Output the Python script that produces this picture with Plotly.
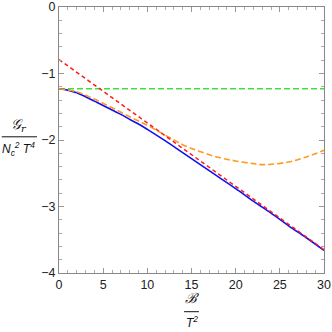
import plotly.graph_objects as go

# Data
x_blue = [0, 1, 2, 3, 4, 5, 6, 7, 8, 9, 10, 12, 14, 16, 18, 20, 22, 24, 26, 28, 30]
y_blue = [-1.23, -1.25, -1.29, -1.35, -1.415, -1.48, -1.55, -1.615, -1.69, -1.76, -1.84,
          -2.01, -2.19, -2.37, -2.55, -2.73, -2.92, -3.10, -3.29, -3.47, -3.66]

x_orange = [0, 2, 4, 6, 8, 10, 12, 14, 16, 18, 20, 22, 23, 24, 26, 28, 30]
y_orange = [-1.23, -1.275, -1.385, -1.515, -1.65, -1.78, -1.925, -2.07, -2.175, -2.26,
            -2.315, -2.355, -2.37, -2.365, -2.33, -2.255, -2.155]

x_red = [0, 30]
y_red = [-0.79, -3.65]

x_green = [0, 30]
y_green = [-1.23, -1.23]

x_ticks = [0, 5, 10, 15, 20, 25, 30]
y_ticks = [0, -1, -2, -3, -4]
y_ticklabels = ["0", "\u22121", "\u22122", "\u22123", "\u22124"]

fig = go.Figure()
fig.add_trace(go.Scatter(x=x_green, y=y_green, mode="lines",
                         line=dict(color="#3EE03E", width=1.5, dash="6px,3px")))
fig.add_trace(go.Scatter(x=x_blue, y=y_blue, mode="lines",
                         line=dict(color="#1010F0", width=1.6, shape="spline")))
fig.add_trace(go.Scatter(x=x_orange, y=y_orange, mode="lines",
                         line=dict(color="#FF9A22", width=1.6, dash="6px,3px", shape="spline")))
fig.add_trace(go.Scatter(x=x_red, y=y_red, mode="lines",
                         line=dict(color="#FF1A1A", width=1.5, dash="4px,3px")))

axis_common = dict(showline=True, linecolor="#888888", linewidth=1, mirror="ticks",
                   ticks="inside", tickcolor="#999999", ticklen=5, showgrid=False,
                   zeroline=False, automargin=False,
                   tickfont=dict(family="Liberation Sans, Arial", size=12.5, color="#222222"))

fig.update_xaxes(range=[0, 30], tickvals=x_ticks,
                 minor=dict(dtick=1, ticks="inside", ticklen=3, tickcolor="#aaaaaa", showgrid=False),
                 **axis_common)
fig.update_yaxes(range=[-4, 0], tickvals=y_ticks, ticktext=y_ticklabels,
                 minor=dict(dtick=0.2, ticks="inside", ticklen=3, tickcolor="#aaaaaa", showgrid=False),
                 **axis_common)

lab_font = dict(family="Liberation Sans, Arial", size=12, color="#111111")
sym_font = dict(family="DejaVu Serif, Liberation Serif", size=14, color="#111111")
fig.update_layout(
    width=332, height=332, showlegend=False,
    margin=dict(l=59, r=8, t=7, b=59),
    paper_bgcolor="white", plot_bgcolor="white",
    annotations=[
        dict(text="<i>\U0001D4A2<sub>r</sub></i>", xref="paper", yref="paper",
             x=-0.152, y=0.52, xanchor="center", yanchor="bottom", showarrow=False, font=sym_font,
             borderpad=0),
        dict(text="<i>N<sub>c</sub><sup>2</sup> T<sup>4</sup></i>", xref="paper", yref="paper",
             x=-0.152, y=0.505, xanchor="center", yanchor="top", showarrow=False, font=lab_font,
             borderpad=0),
        dict(text="<i>\u212C</i>", xref="paper", yref="paper",
             x=0.5, y=-0.128, xanchor="center", yanchor="bottom", showarrow=False, font=sym_font,
             borderpad=0),
        dict(text="<i>T<sup>2</sup></i>", xref="paper", yref="paper",
             x=0.5, y=-0.152, xanchor="center", yanchor="top", showarrow=False, font=lab_font,
             borderpad=0),
    ],
    shapes=[
        dict(type="line", xref="paper", yref="paper", x0=-0.216, x1=-0.083, y0=0.512, y1=0.512,
             line=dict(color="#111111", width=1)),
        dict(type="line", xref="paper", yref="paper", x0=0.472, x1=0.528, y0=-0.1455, y1=-0.1455,
             line=dict(color="#111111", width=1)),
    ],
)

fig.write_html("out.html", config={"displayModeBar": False},
               post_script="document.body.style.margin='0';")
